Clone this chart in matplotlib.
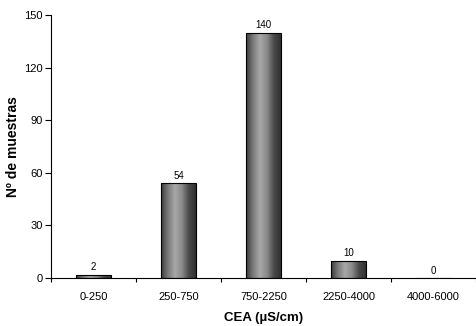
import matplotlib.pyplot as plt
import numpy as np
from matplotlib.colors import LinearSegmentedColormap

plt.rcParams['font.family'] = ['Liberation Sans', 'DejaVu Sans']

categories = ["0-250", "250-750", "750-2250", "2250-4000", "4000-6000"]
counts = [2, 54, 140, 10, 0]
yticks = [0, 30, 60, 90, 120, 150]

# cylinder-like shading across each bar
shade = LinearSegmentedColormap.from_list(
    "shade", ["#3a3a3a", "#7a7a7a", "#a8a8a8", "#8a8a8a", "#4a4a4a", "#303030"])


def main():
    fig = plt.figure(figsize=(4.76, 3.26), dpi=100)
    ax = fig.add_axes([0.107, 0.147, 0.893, 0.807])

    x = np.arange(len(categories))
    bars = ax.bar(x, counts, width=0.41, color="none", edgecolor="black",
                  linewidth=0.8, zorder=3)
    grad = np.linspace(0, 1, 256).reshape(1, -1)
    for bar in bars:
        if bar.get_height() <= 0:
            continue
        x0, y0 = bar.get_x(), bar.get_y()
        w, h = bar.get_width(), bar.get_height()
        im = ax.imshow(grad, cmap=shade, aspect="auto", zorder=2,
                       extent=[x0, x0 + w, y0, y0 + h])
        im.set_clip_path(bar)

    for xi, c in zip(x, counts):
        ax.text(xi, c + 1.3, str(c), ha="center", va="bottom", fontsize=7)

    ax.set_xlim(-0.5, len(categories) - 0.5)
    ax.set_ylim(0, 150)
    ax.set_yticks(yticks)
    ax.set_xticks(np.arange(len(categories) + 1) - 0.5)
    ax.set_xticklabels([])
    ax.set_xticks(x, minor=True)
    ax.set_xticklabels(categories, minor=True)
    ax.tick_params(axis="x", which="minor", length=0, pad=10, labelsize=8)
    ax.tick_params(axis="x", which="major", length=3, width=0.8, direction="out")
    ax.tick_params(axis="y", length=4, width=0.8, labelsize=8, pad=2)

    ax.spines["top"].set_visible(False)
    ax.spines["right"].set_visible(False)
    ax.spines["left"].set_linewidth(0.8)
    ax.spines["bottom"].set_linewidth(0.8)

    ax.set_ylabel("Nº de muestras", fontsize=10, fontweight="bold", labelpad=3)
    ax.set_xlabel("CEA (µS/cm)", fontsize=9.5, fontweight="bold", labelpad=7)

    fig.savefig("out.png", dpi=100)


if __name__ == "__main__":
    main()
